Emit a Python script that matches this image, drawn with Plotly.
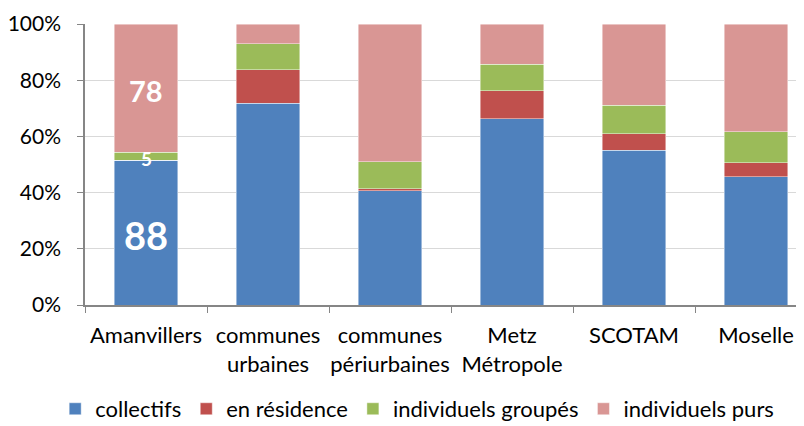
import plotly.graph_objects as go

categories = ["Amanvillers", "communes<br>urbaines", "communes<br>périurbaines",
              "Metz<br>Métropole", "SCOTAM", "Moselle"]
series_names = ["collectifs", "en résidence", "individuels groupés", "individuels purs"]
collectifs = [88, 71.8, 40.6, 66.2, 55.0, 45.7]
en_residence = [0, 12.0, 0.7, 10.1, 5.9, 4.9]
individuels_groupes = [5, 9.2, 9.7, 9.4, 10.2, 11.0]
individuels_purs = [78, 7.0, 49.0, 14.3, 28.9, 38.4]
labeled_category = 0  # only Amanvillers carries value labels (counts)
y_ticks = [0, 20, 40, 60, 80, 100]
y_ticktext = ["0%", "20%", "40%", "60%", "80%", "100%"]

colors = ["#4F81BD", "#C0504D", "#9BBB59", "#D99694"]
label_sizes = {0: 38, 2: 19, 3: 29}

FONT = "Lato"
FS = 21
FSX = 22

fig = go.Figure()
series = [collectifs, en_residence, individuels_groupes, individuels_purs]
for name, vals, col in zip(series_names, series, colors):
    fig.add_trace(go.Bar(
        name=name, x=categories, y=vals,
        marker=dict(color=col, line=dict(color="rgba(255,255,255,0.55)", width=0.8)),
        width=0.52, hoverinfo="skip",
    ))

# value labels for Amanvillers, placed at segment midpoints derived from the data
i = labeled_category
total = sum(s[i] for s in series)
cum = 0.0
for k, s in enumerate(series):
    v = s[i]
    if v > 0 and k in label_sizes:
        fig.add_annotation(
            x=categories[i], y=(cum + v / 2) / total * 100,
            text="<b>%d</b>" % round(v), showarrow=False, yshift=-2,
            font=dict(family=FONT, size=label_sizes[k], color="white"),
        )
    cum += v

fig.update_layout(
    width=796, height=418,
    margin=dict(l=77, r=0, t=16, b=121, autoexpand=False),
    barmode="stack", barnorm="percent",
    plot_bgcolor="white", paper_bgcolor="white",
    font=dict(family=FONT, size=FS, color="#000000"),
    showlegend=True,
    legend=dict(orientation="h", x=0.462, xanchor="center", y=-0.37, yanchor="middle",
                font=dict(family=FONT, size=FSX, color="#000000"),
                itemwidth=30, traceorder="normal"),
)
fig.update_yaxes(
    range=[0, 100], tickvals=y_ticks, ticktext=y_ticktext,
    showgrid=True, gridcolor="#D9D9D9", gridwidth=1,
    showline=True, linecolor="#868686", linewidth=1.5,
    ticks="outside", ticklen=6, tickcolor="#868686",
    ticklabelstandoff=12, zeroline=False,
    tickfont=dict(family=FONT, size=FS, color="#000000"),
)
fig.update_xaxes(
    range=[-0.5, 5.393], showline=True, linecolor="#868686", linewidth=1.5,
    ticks="outside", ticklen=6, tickcolor="#868686", tickson="boundaries",
    showgrid=False, ticklabelstandoff=10, tickangle=0,
    tickfont=dict(family=FONT, size=FSX, color="#000000"),
)

fig.write_html("out.html")
